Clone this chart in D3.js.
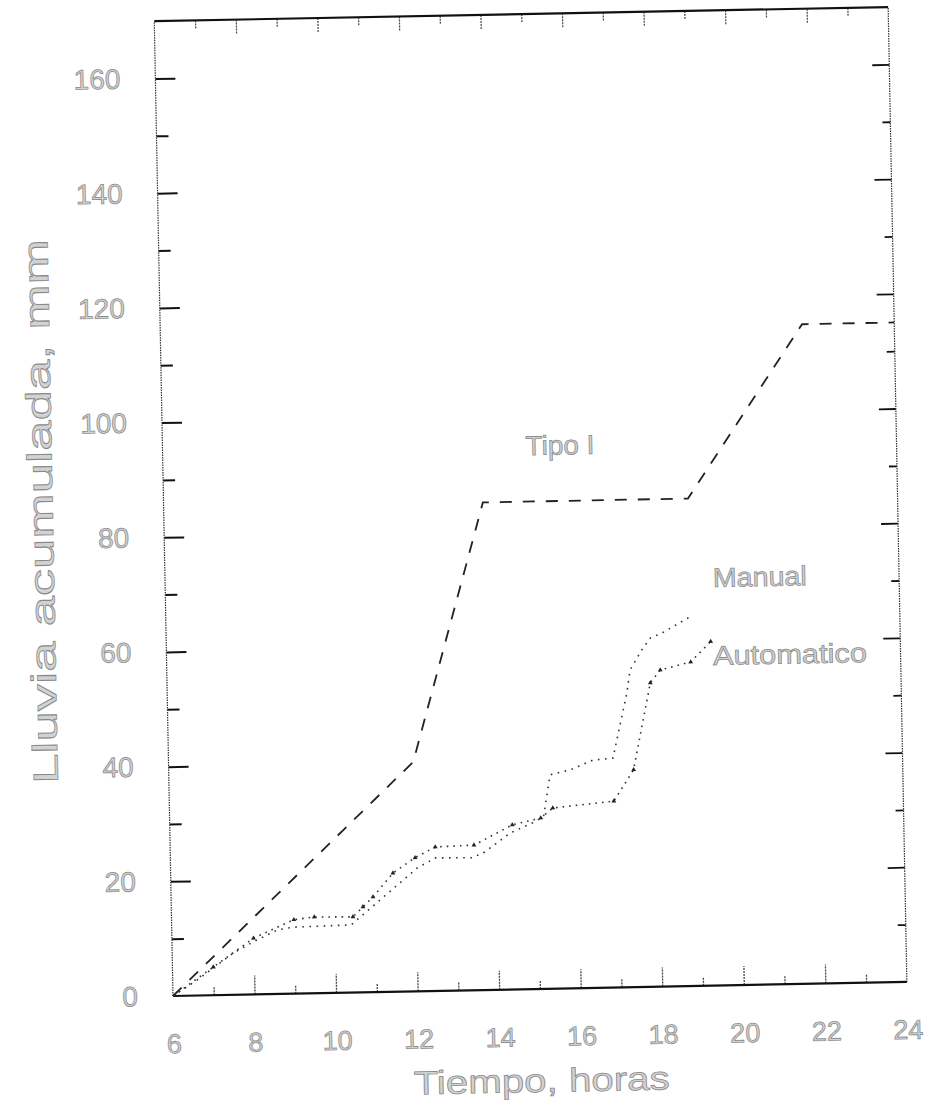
<!DOCTYPE html>
<html>
<head>
<meta charset="utf-8">
<script src="https://cdn.jsdelivr.net/npm/d3@7"></script>
<style>
  html, body { margin: 0; padding: 0; background: #fff; }
  svg { display: block; }
</style>
</head>
<body>
<svg id="grafica" width="925" height="1107"></svg>
<script>
// Lluvia acumulada (mm) frente a la hora del día
const tipoHoras   = [6, 12, 13.83, 18.86, 21.74, 24];
const tipoLluvia  = [0, 40, 85, 85, 115, 115];

const manualHoras  = [6, 6.6, 7.5, 8.0, 8.6, 9.0, 10.4, 12.05, 12.5, 13.4, 13.7, 14.35, 14.9, 15.17,
                      15.35, 15.85, 16.4, 16.9, 17.27, 17.36, 17.66, 17.87, 18.15, 18.86];
const manualLluvia = [0, 2.7, 7.3, 9.2, 11.2, 11.6, 11.8, 21.5, 23.2, 23.1, 24.0, 27.3, 29.0, 30.0,
                      37.3, 38.1, 39.7, 40.0, 51.3, 55.3, 58.8, 60.8, 61.6, 64.4];

const autoHoras  = [6, 7.0, 8.0, 9.0, 9.5, 10.45, 10.7, 10.95, 11.45, 12.0, 12.5, 13.45, 14.4, 15.1,
                    15.4, 16.9, 17.4, 17.85, 18.1, 18.85, 19.35];
const autoLluvia = [0, 4.9, 9.8, 12.9, 13.3, 13.2, 14.9, 16.6, 20.7, 23.3, 25.1, 25.3, 28.7, 29.8,
                    31.5, 32.5, 37.9, 53.0, 55.2, 56.5, 60.0];

const xEtiquetas = [6, 8, 10, 12, 14, 16, 18, 20, 22, 24];
const xMayores   = [8, 10, 12, 14, 16, 18, 20, 22];
const xMenores   = [7, 9, 11, 13, 15, 17, 19, 21, 23];
const yEtiquetas = [0, 20, 40, 60, 80, 100, 120, 140, 160];
const yMayores   = [20, 40, 60, 80, 100, 120, 140, 160];
const yMenores   = [10, 30, 50, 70, 90, 110, 130, 150];

const rotulos = [
  { texto: "Tipo I",     hora: 14.9,  valor: 93.1, ancho: 69 },
  { texto: "Manual",     hora: 19.43, valor: 69.5, ancho: 94 },
  { texto: "Automatico", hora: 19.40, valor: 55.9, ancho: 154 }
];

const W = 734, H = 975;
const fuente = "'Liberation Sans', Arial, sans-serif";

// Texto de trazo fino, gris claro
function estiloTexto(sel, tam) {
  sel.attr("font-family", fuente).attr("font-size", tam)
    .attr("fill", "#d2d2d2").attr("stroke", "#8a8a8a").attr("stroke-width", 0.75);
}

const svg = d3.select("#grafica");
// El marco completo va ligeramente girado
const g = svg.append("g")
  .attr("transform", `translate(173,996) rotate(-1.1) translate(0,${-H})`);

const x = d3.scaleLinear().domain([6, 24]).range([0, W]);
const y = d3.scaleLinear().domain([0, 170]).range([H, 0]);

function marcas(eje, valores, largo, ancho, color, trazo) {
  return sel => {
    sel.call(eje.tickValues(valores).tickSize(largo).tickFormat(""));
    sel.select(".domain").remove();
    sel.selectAll(".tick line")
      .attr("stroke", color).attr("stroke-width", ancho)
      .attr("stroke-dasharray", trazo || null);
  };
}

// Marcas de los ejes (hacia dentro)
g.append("g").attr("transform", `translate(0,${H})`)
  .call(marcas(d3.axisBottom(x), xMayores, -19, 1.3, "#444", "2,1"));
g.append("g").attr("transform", `translate(0,${H})`)
  .call(marcas(d3.axisBottom(x), xMenores, -8, 1.3, "#444", "2,1"));
g.append("g")
  .call(marcas(d3.axisTop(x), xMayores, -14, 1.2, "#444", "2,1"));
g.append("g")
  .call(marcas(d3.axisTop(x), xMenores, -8, 1.2, "#444", "2,1"));
g.append("g")
  .call(marcas(d3.axisLeft(y), yMayores, -20, 2, "#111"));
g.append("g")
  .call(marcas(d3.axisLeft(y), yMenores, -12, 2, "#111"));
g.append("g").attr("transform", `translate(${W},0)`)
  .call(marcas(d3.axisRight(y), yMayores, -17, 1.8, "#111"));
g.append("g").attr("transform", `translate(${W},0)`)
  .call(marcas(d3.axisRight(y), yMenores, -8, 1.8, "#111"));

// Marco: laterales punteados, superior e inferior continuos
g.append("line").attr("x1", x(6)).attr("x2", x(6)).attr("y1", y(0)).attr("y2", y(170))
  .attr("stroke", "#333").attr("stroke-width", 1.2).attr("stroke-dasharray", "1.5,1");
g.append("line").attr("x1", x(24)).attr("x2", x(24)).attr("y1", y(0)).attr("y2", y(170))
  .attr("stroke", "#333").attr("stroke-width", 1.2).attr("stroke-dasharray", "1.5,1");
g.append("line").attr("x1", x(6)).attr("x2", x(24)).attr("y1", y(170)).attr("y2", y(170))
  .attr("stroke", "#111").attr("stroke-width", 2.2);
g.append("line").attr("x1", x(6)).attr("x2", x(24)).attr("y1", y(0)).attr("y2", y(0))
  .attr("stroke", "#111").attr("stroke-width", 2.2);

// Etiquetas de los ejes
const ejeX = g.append("g").attr("transform", `translate(0,${H})`)
  .call(d3.axisBottom(x).tickValues(xEtiquetas).tickSize(0).tickPadding(38).tickFormat(d3.format("d")));
ejeX.select(".domain").remove();
ejeX.selectAll("text").call(estiloTexto, 27);

const ejeY = g.append("g")
  .call(d3.axisLeft(y).tickValues(yEtiquetas).tickSize(0).tickPadding(35).tickFormat(d3.format("d")));
ejeY.select(".domain").remove();
ejeY.selectAll("text").call(estiloTexto, 28);

g.append("text")
  .attr("x", W / 2).attr("y", H + 103)
  .attr("text-anchor", "middle")
  .call(estiloTexto, 33)
  .attr("textLength", 256).attr("lengthAdjust", "spacingAndGlyphs")
  .text("Tiempo, horas");

g.append("text")
  .attr("transform", `translate(-111,${H - 487}) rotate(-90)`)
  .attr("text-anchor", "middle")
  .call(estiloTexto, 35)
  .attr("textLength", 545).attr("lengthAdjust", "spacingAndGlyphs")
  .text("Lluvia acumulada, mm");

// Curvas
const linea = d3.line().x(d => x(d[0])).y(d => y(d[1]));
const serie = (h, v) => h.map((t, i) => [t, v[i]]);

g.append("path").datum(serie(tipoHoras, tipoLluvia))
  .attr("d", linea).attr("fill", "none")
  .attr("stroke", "#222").attr("stroke-width", 1.8)
  .attr("stroke-dasharray", "12,11");

g.append("path").datum(serie(manualHoras, manualLluvia))
  .attr("d", linea).attr("fill", "none")
  .attr("stroke", "#333").attr("stroke-width", 1.6)
  .attr("stroke-dasharray", "1.6,5.5");

const datosAuto = serie(autoHoras, autoLluvia);
g.append("path").datum(datosAuto)
  .attr("d", linea).attr("fill", "none")
  .attr("stroke", "#333").attr("stroke-width", 1.6)
  .attr("stroke-dasharray", "1.6,5");

g.selectAll(".marca").data(datosAuto.slice(1)).join("path")
  .attr("class", "marca")
  .attr("transform", d => `translate(${x(d[0])},${y(d[1])})`)
  .attr("d", d3.symbol(d3.symbolTriangle, 10))
  .attr("fill", "#222");

// Rótulos de las curvas
g.selectAll(".rotulo").data(rotulos).join("text")
  .attr("class", "rotulo")
  .attr("x", d => x(d.hora)).attr("y", d => y(d.valor))
  .call(estiloTexto, 27)
  .attr("textLength", d => d.ancho).attr("lengthAdjust", "spacingAndGlyphs")
  .text(d => d.texto);
</script>
</body>
</html>
